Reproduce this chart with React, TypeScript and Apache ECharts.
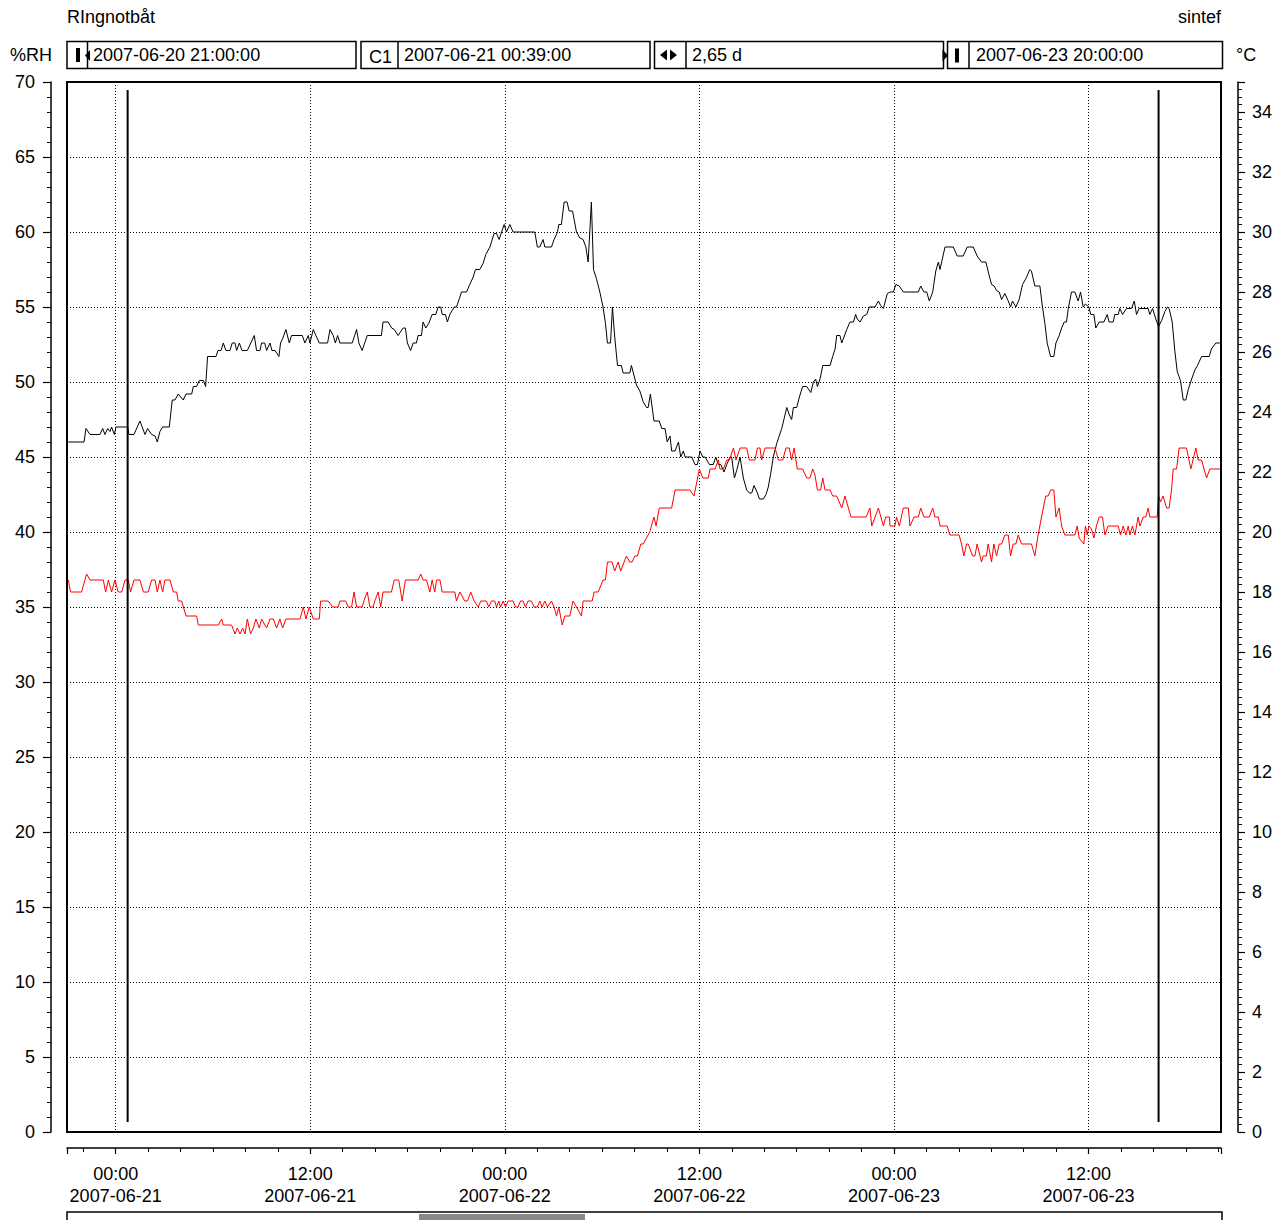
import React, { useEffect, useRef } from "react";
import * as echarts from "echarts";

// ---- texts ----
const chartTitle = "RIngnotbåt";
const brandText = "sintef";
const leftUnit = "%RH";
const rightUnit = "°C";
const startLabel = "2007-06-20 21:00:00";
const cursorName = "C1";
const cursorLabel = "2007-06-21 00:39:00";
const spanLabel = "2,65 d";
const endLabel = "2007-06-23 20:00:00";

// ---- x range, hours relative to 2007-06-21 00:00 ----
const xMinHours = -3;
const xMaxHours = 68.17;
const cursorHours = [0.74, 64.32];
const cursorRange = [0.67, 69.47];

// ---- relative humidity (%RH), [hours, value] ----
const rhPoints: [number, number][] = [
  [-2.92,46.0],[-1.95,46.0],[-1.83,46.9],[-1.58,46.5],[-0.97,46.5],[-0.80,46.9],[-0.66,46.5],[-0.49,46.9],[-0.35,46.7],[-0.25,47.0],[-0.08,46.5],[0.02,47.0],[0.74,47.0],[0.82,46.5],[1.13,46.5],[1.50,47.4],[1.81,46.5],[1.97,46.9],[2.22,46.5],[2.43,46.4],[2.57,46.0],[2.73,46.7],[2.90,47.0],[3.31,47.0],[3.49,48.8],[3.66,48.8],[3.86,49.2],[4.17,48.8],[4.34,49.2],[4.69,49.2],[4.79,49.7],[4.99,49.7],[5.16,50.1],[5.41,50.1],[5.55,49.7],[5.67,51.7],[6.19,51.7],[6.31,52.1],[6.50,52.1],[6.64,52.6],[6.80,52.1],[7.05,52.1],[7.19,52.6],[7.36,52.6],[7.46,52.1],[7.63,52.6],[7.79,52.1],[8.12,52.1],[8.55,53.1],[8.69,52.1],[8.90,52.1],[9.00,52.6],[9.19,52.6],[9.31,52.1],[9.52,52.6],[9.64,52.1],[9.83,52.1],[10.07,51.7],[10.17,52.6],[10.34,53.0],[10.50,53.5],[10.71,52.6],[10.85,53.1],[11.51,53.1],[11.67,52.6],[11.88,53.1],[11.98,52.6],[12.19,53.5],[12.35,53.1],[12.56,52.6],[13.07,52.6],[13.22,53.5],[13.42,53.1],[13.55,52.6],[13.69,53.1],[13.83,52.6],[14.59,52.6],[14.86,53.5],
  [15.0,52.6],[15.2,52.1],[15.52,53.1],[16.39,53.1],[16.49,54.0],[16.81,54.0],[17.02,53.6],[17.18,53.5],[17.42,53.1],[17.73,53.6],[17.87,53.6],[17.99,52.6],[18.19,52.1],[18.35,52.6],[18.55,52.6],[18.65,53.1],[18.86,53.1],[18.96,54.0],[19.13,53.6],[19.31,53.9],[19.52,54.5],[19.74,54.5],[19.89,55.0],[20.05,55.0],[20.14,54.5],[20.34,54.5],[20.46,54.0],[20.61,54.5],[20.88,55.0],[21.02,55.0],[21.18,55.5],[21.33,56.0],[21.64,56.0],[21.84,56.5],[22.05,57.0],[22.19,57.5],[22.46,57.5],[22.66,57.9],[22.83,58.5],[23.08,59.0],[23.34,59.9],[23.49,59.9],[23.65,59.5],[23.96,60.5],[24.10,60.0],[24.31,60.5],[24.51,60.0],[25.85,60.0],[26.01,59.0],[26.16,59.0],[26.36,59.5],[26.47,59.0],[26.88,59.0],[27.04,59.5],[27.25,60.0],[27.33,60.5],[27.49,60.5],[27.66,62.0],[27.84,62.0],[27.97,61.4],[28.18,61.4],[28.42,60.0],[28.63,59.6],[28.83,59.5],[29.00,59.0],[29.14,58.0],[29.34,62.0],[29.47,57.5],[29.65,56.9],[29.86,56.0],[30.06,55.0],[30.21,53.9],[30.33,52.6],[30.52,52.6],[30.64,55.0],[30.78,53.0],[30.95,51.1],[31.19,51.1],[31.30,50.6],[31.71,50.6],[31.81,51.1],[32.12,49.8],[32.33,49.4],[32.53,48.7],[32.74,48.3],[32.84,48.3],[32.98,49.2],
  [33.20,47.4],[33.53,47.4],[33.68,46.9],[33.88,46.9],[34.02,46.0],[34.19,46.4],[34.29,45.4],[34.50,45.4],[34.71,46.0],[34.85,45.0],[35.01,45.4],[35.12,45.0],[35.53,45.0],[35.73,44.5],[35.88,44.5],[36.04,45.4],[36.21,45.0],[36.35,45.0],[36.62,44.5],[36.86,44.5],[37.01,45.0],[37.17,44.5],[37.32,44.5],[37.52,44.0],[37.69,44.5],[37.89,45.0],[37.99,45.0],[38.16,43.6],[38.30,44.1],[38.51,45.0],[38.71,43.6],[38.92,42.8],[39.08,42.6],[39.23,42.6],[39.37,43.1],[39.58,42.6],[39.70,42.2],[39.95,42.2],[40.11,42.5],[40.25,43.0],[40.40,43.9],[40.56,45.0],[40.77,45.9],[41.08,46.9],[41.39,48.3],[41.55,47.8],[41.69,47.5],[41.80,48.3],[42.00,48.3],[42.17,49.0],[42.37,49.7],[42.62,49.7],[42.87,49.3],[43.03,50.0],[43.17,50.2],[43.28,49.7],[43.44,50.2],[43.61,51.1],[44.06,51.1],[44.22,51.7],[44.37,52.2],[44.47,53.1],[44.67,53.1],[44.78,52.6],[45.09,53.5],[45.29,54.0],[45.50,54.0],[45.64,54.5],[45.74,54.2],[45.91,54.0],[46.11,54.4],[46.32,54.5],[46.48,55.0],[46.83,55.0],[47.04,55.4],[47.18,55.1],[47.35,54.9],[47.59,55.9],[47.76,56.0],[47.96,56.0],[48.12,56.5],[48.33,56.4],[48.58,56.0],[49.50,56.0],[49.65,56.4],[49.85,56.0],[50.02,56.0],[50.18,55.4],[50.39,56.0],[50.58,57.4],[50.74,58.0],[50.84,57.5],[51.15,59.0],
  [51.66,59.0],[51.90,58.4],[52.27,58.4],[52.52,59.0],[52.89,59.0],[53.13,58.4],[53.40,58.0],[53.67,58.0],[53.85,57.2],[54.02,56.5],[54.18,56.4],[54.33,56.1],[54.49,56.0],[54.64,55.5],[54.84,55.9],[55.05,55.4],[55.19,55.0],[55.31,55.4],[55.52,55.0],[55.72,55.5],[55.93,56.5],[56.14,56.9],[56.38,57.5],[56.48,57.4],[56.69,56.4],[57.00,56.4],[57.16,55.0],[57.31,53.9],[57.45,52.6],[57.66,51.7],[57.86,51.7],[57.99,52.6],[58.19,53.1],[58.34,53.6],[58.50,54.0],[58.64,54.0],[58.75,54.9],[58.95,56.0],[59.16,56.0],[59.36,55.4],[59.51,56.0],[59.67,55.0],[59.81,55.2],[60.02,55.0],[60.14,54.5],[60.33,54.5],[60.45,53.6],[60.66,54.0],[60.95,54.0],[61.15,54.5],[61.27,54.0],[61.52,54.0],[61.62,54.5],[61.83,54.5],[61.93,54.9],[62.10,54.5],[62.34,54.9],[62.65,54.9],[62.82,55.4],[62.96,54.5],[63.12,54.9],[63.68,54.9],[63.78,54.5],[63.95,54.9],[64.15,54.2],[64.32,53.7],[64.51,54.1],[64.71,54.7],[64.87,55.0],[64.97,54.9],[65.16,54.0],[65.32,52.1],[65.47,50.7],[65.67,50.1],[65.84,48.8],[66.00,48.8],[66.15,49.5],[66.36,50.2],[66.56,50.8],[66.72,51.1],[66.97,51.7],[67.44,51.7],[67.58,52.2],[67.85,52.6],[68.10,52.6],
];

// ---- temperature (°C), [hours, value] ----
const tempPoints: [number, number][] = [
  [-2.92,18.4],[-2.78,18.0],[-2.10,18.0],[-1.79,18.6],[-1.58,18.4],[-0.76,18.4],[-0.62,18.0],[-0.45,18.4],[-0.25,18.0],[-0.04,18.4],[0.16,18.0],[0.37,18.0],[0.58,18.4],[0.78,18.4],[0.92,18.0],[1.13,18.4],[1.50,18.4],[1.71,18.0],[2.01,18.0],[2.22,18.4],[2.43,18.4],[2.57,18.0],[2.73,18.4],[2.90,18.0],[3.04,18.4],[3.35,18.4],[3.56,18.0],[3.76,18.0],[3.86,17.7],[4.07,17.7],[4.34,17.2],[4.99,17.2],[5.10,16.9],[6.33,16.9],[6.54,17.1],[6.64,16.9],[7.15,16.9],[7.36,16.6],[7.50,16.8],[7.67,16.6],[7.83,16.8],[7.98,16.6],[8.12,17.1],[8.32,16.6],[8.49,16.8],[8.65,17.1],[8.86,16.8],[9.00,17.1],[9.31,16.8],[9.52,17.1],[9.72,17.1],[9.93,16.8],[10.13,17.1],[10.30,16.8],[10.50,17.1],[11.37,17.1],[11.57,17.5],[11.74,17.1],[11.94,17.5],[12.19,17.1],[12.56,17.1],[12.64,17.7],[13.11,17.7],[13.38,17.5],[13.73,17.5],[13.83,17.7],[14.18,17.7],[14.35,17.5],[14.55,17.5],[14.70,18.0],[14.86,17.5],[15.20,17.5],
  [15.37,17.8],[15.52,18.0],[15.68,17.5],[15.88,17.5],[15.98,17.7],[16.19,18.0],[16.35,17.5],[16.49,18.0],[17.01,18.0],[17.18,18.4],[17.46,18.4],[17.67,17.7],[17.87,18.4],[18.66,18.4],[18.82,18.6],[18.96,18.4],[19.17,18.4],[19.38,18.0],[19.52,18.4],[19.68,18.0],[19.79,18.4],[20.0,18.4],[20.14,18.0],[20.92,18.0],[21.02,17.7],[21.23,18.0],[21.53,17.7],[21.70,17.7],[21.90,18.0],[22.11,17.7],[22.36,17.5],[22.52,17.7],[22.87,17.7],[23.01,17.5],[23.18,17.7],[23.38,17.7],[23.49,17.5],[23.63,17.7],[23.73,17.5],[23.90,17.7],[24.04,17.5],[24.21,17.7],[24.51,17.7],[24.66,17.5],[24.82,17.5],[24.97,17.7],[25.13,17.7],[25.27,17.5],[25.44,17.7],[25.64,17.7],[25.81,17.5],[26.01,17.5],[26.16,17.7],[26.30,17.5],[26.47,17.7],[26.63,17.5],[26.88,17.7],[27.04,17.5],[27.19,17.2],[27.33,17.5],[27.54,16.9],[27.70,17.2],[28.01,17.2],[28.21,17.7],[28.42,17.5],[28.73,17.2],[28.83,17.7],[29.39,17.7],[29.51,18.0],[29.76,18.0],[30.06,18.4],[30.21,18.4],[30.33,19.0],[30.62,19.0],[30.78,18.7],[30.99,19.0],[31.15,18.7],[31.50,19.2],[31.71,19.0],[31.85,19.0],[32.02,19.2],[32.18,19.2],[32.39,19.6],[32.53,19.6],[32.74,19.8],[32.94,20.0],
  [33.20,20.5],[33.33,20.2],[33.53,20.8],[34.29,20.8],[34.50,21.4],[35.42,21.4],[35.67,21.2],[36.0,22.1],[36.21,21.8],[36.55,21.8],[36.66,22.1],[36.97,22.1],[37.17,22.4],[37.27,22.1],[37.48,22.1],[37.69,22.4],[37.85,22.4],[38.10,22.8],[38.26,22.4],[38.51,22.8],[38.92,22.8],[39.08,22.4],[39.43,22.4],[39.58,22.8],[39.74,22.8],[39.84,22.4],[40.05,22.8],[40.67,22.8],[40.87,22.4],[41.14,22.4],[41.34,22.8],[41.55,22.8],[41.69,22.4],[41.84,22.8],[42.04,22.1],[42.37,22.1],[42.62,21.8],[42.82,21.8],[42.99,22.1],[43.13,21.9],[43.28,21.4],[43.48,21.4],[43.61,21.8],[43.75,21.4],[44.06,21.4],[44.22,21.2],[44.47,21.2],[44.78,20.8],[44.98,21.2],[45.19,20.8],[45.35,20.5],[46.28,20.5],[46.52,20.8],[46.63,20.2],[47.04,20.8],[47.35,20.2],[47.49,20.5],[47.72,20.5],[47.76,20.2],[48.06,20.2],[48.16,20.5],[48.33,20.2],[48.58,20.8],[48.89,20.8],[48.99,20.2],[49.24,20.5],[49.50,20.5],[49.65,20.8],[49.85,20.5],[50.18,20.5],[50.39,20.8],[50.53,20.5],[50.74,20.5],[50.84,20.2],
  [51.28,20.2],[51.45,19.9],[52.02,19.9],[52.17,19.6],[52.31,19.2],[52.48,19.6],[52.58,19.6],[52.85,19.2],[52.99,19.2],[53.13,19.6],[53.40,19.0],[53.50,19.2],[53.70,19.2],[53.81,19.6],[54.02,19.0],[54.16,19.6],[54.33,19.2],[54.49,19.6],[54.64,19.6],[54.84,19.9],[55.05,19.9],[55.19,19.2],[55.35,19.6],[55.52,19.6],[55.66,19.9],[55.87,19.6],[56.48,19.6],[56.69,19.2],[56.89,19.9],[57.10,20.5],[57.36,21.2],[57.51,21.2],[57.66,21.4],[57.86,21.4],[57.99,20.5],[58.19,20.8],[58.34,20.2],[58.54,19.9],[59.16,19.9],[59.30,20.2],[59.42,19.8],[59.71,19.6],[59.81,20.2],[59.92,19.9],[60.02,20.2],[60.18,20.1],[60.33,19.8],[60.49,20.2],[60.66,20.5],[60.86,20.5],[61.01,19.9],[61.21,20.2],[61.83,20.2],[61.97,19.9],[62.14,20.2],[62.30,19.9],[62.45,20.2],[62.55,19.9],[62.71,20.2],[62.86,19.9],[63.06,20.5],[63.17,20.2],[63.37,20.5],[63.53,20.5],[63.68,20.8],[63.78,20.5],[64.23,20.5],[64.32,21.2],[64.44,21.0],[64.60,21.2],[64.81,20.8],[64.97,20.8],[65.12,21.4],[65.22,22.1],[65.43,22.1],[65.59,22.8],[66.04,22.8],[66.31,22.1],[66.62,22.8],[66.76,22.4],[66.97,22.4],[67.28,21.8],[67.48,22.1],[68.10,22.1],
];

const FONT = "'Liberation Sans', Arial, Helvetica, sans-serif";
const HALF_DAY = 12;

function pad(n: number) {
  return n < 10 ? "0" + n : String(n);
}

function xLabel(v: number) {
  const h = Math.round(v * HALF_DAY);
  const day = 21 + Math.floor(h / 24);
  const hh = ((h % 24) + 24) % 24;
  return pad(hh) + ":00\n2007-06-" + pad(day);
}

function txt(text: string, x: number, y: number, align = "left") {
  return {
    type: "text",
    x,
    y,
    silent: true,
    style: { text, fill: "#000", fontSize: 18, fontFamily: FONT, align, verticalAlign: "middle" },
  };
}
function box(x: number, y: number, w: number, h: number, lw = 1.5) {
  return {
    type: "rect",
    shape: { x, y, width: w, height: h },
    silent: true,
    z: 100,
    style: { fill: "none", stroke: "#000", lineWidth: lw },
  };
}
function vline(x: number, y1: number, y2: number, w = 1.5) {
  return { type: "line", silent: true, shape: { x1: x, y1, x2: x, y2 }, style: { stroke: "#000", lineWidth: w } };
}
function tri(points: number[][]) {
  return { type: "polygon", silent: true, shape: { points }, style: { fill: "#000" } };
}
function bar(x: number, y: number, w: number, h: number, fill = "#000") {
  return { type: "rect", silent: true, shape: { x, y, width: w, height: h }, style: { fill } };
}

const dotted = { color: "#000", width: 1, type: [1, 2] };

export default function App() {
  const ref = useRef<HTMLDivElement>(null);
  useEffect(() => {
    document.body.style.margin = "0";
    if (!ref.current) return;
    const chart = echarts.init(ref.current, undefined, { renderer: "svg" });
    const boxTop = 41.5;
    const boxH = 27;
    const midY = 55;
    const option: any = {
      animation: false,
      backgroundColor: "#fff",
      textStyle: { fontFamily: FONT, color: "#000" },
      grid: {
        left: 67,
        right: 62,
        top: 82,
        bottom: 88,
        show: false,
      },
      xAxis: {
        type: "value",
        min: xMinHours / HALF_DAY,
        max: xMaxHours / HALF_DAY,
        splitNumber: 6,
        offset: 16,
        axisLine: { show: true, onZero: false, lineStyle: { color: "#000", width: 1.5 } },
        axisTick: { show: true, length: 6, lineStyle: { color: "#000", width: 1.2 } },
        minorTick: { show: true, splitNumber: 6, length: 4, lineStyle: { color: "#000", width: 1 } },
        axisLabel: {
          show: true,
          formatter: xLabel,
          fontSize: 18,
          lineHeight: 22,
          color: "#000",
          fontFamily: FONT,
          margin: 15,
          showMinLabel: false,
          showMaxLabel: false,
        },
        splitLine: { show: true, showMinLine: false, showMaxLine: false, lineStyle: dotted },
        minorSplitLine: { show: false },
      },
      yAxis: [
        {
          type: "value",
          position: "left",
          min: 0,
          max: 70,
          interval: 5,
          offset: 16,
          axisLine: { show: true, onZero: false, lineStyle: { color: "#000", width: 1.5 } },
          axisTick: { show: true, length: 8, lineStyle: { color: "#000", width: 1.2 } },
          minorTick: { show: true, splitNumber: 5, length: 4, lineStyle: { color: "#000", width: 1 } },
          axisLabel: { fontSize: 18, color: "#000", fontFamily: FONT, margin: 16 },
          splitLine: { show: true, showMinLine: false, showMaxLine: false, lineStyle: dotted },
        },
        {
          type: "value",
          position: "right",
          min: 0,
          max: 35,
          splitNumber: 17,
          offset: 17,
          axisLine: { show: true, onZero: false, lineStyle: { color: "#000", width: 1.5 } },
          axisTick: { show: true, length: 7, lineStyle: { color: "#000", width: 1.2 } },
          minorTick: { show: true, splitNumber: 8, length: 4, lineStyle: { color: "#000", width: 1 } },
          axisLabel: { fontSize: 18, color: "#000", fontFamily: FONT, margin: 14, showMaxLabel: false },
          splitLine: { show: false },
        },
      ],
      series: [
        {
          name: "RH",
          type: "line",
          yAxisIndex: 0,
          symbol: "none",
          silent: true,
          lineStyle: { color: "#000", width: 1 },
          data: rhPoints.map(([h, v]) => [h / HALF_DAY, v]),
          z: 3,
        },
        {
          name: "Temp",
          type: "line",
          yAxisIndex: 1,
          symbol: "none",
          silent: true,
          lineStyle: { color: "#ff0000", width: 1 },
          data: tempPoints.map(([h, v]) => [h / HALF_DAY, v]),
          z: 3,
        },
        ...cursorHours.map((h, i) => ({
          name: "cursor" + i,
          type: "line",
          yAxisIndex: 0,
          symbol: "none",
          silent: true,
          lineStyle: { color: "#000", width: 2 },
          data: cursorRange.map((v) => [h / HALF_DAY, v]),
          z: 4,
        })),
      ],
      graphic: [
        txt(chartTitle, 67, 17),
        txt(brandText, 1221, 17, "right"),
        txt(leftUnit, 10, midY),
        txt(rightUnit, 1236, midY),
        // plot frame
        box(67, 82, 1154, 1050, 2),
        // box A: start
        box(67, boxTop, 289, boxH),
        bar(76, 48, 4, 14),
        vline(87.5, boxTop, boxTop + boxH),
        tri([[85, 55.5], [90, 50], [90, 61]]),
        txt(startLabel, 93, midY),
        // box B: cursor
        box(361, boxTop, 289, boxH),
        vline(398, boxTop, boxTop + boxH),
        txt(cursorName, 369, 57),
        txt(cursorLabel, 404, midY),
        // box C: span
        box(654.5, boxTop, 289, boxH),
        vline(686, boxTop, boxTop + boxH),
        tri([[660, 55], [667, 49.5], [667, 60.5]]),
        tri([[670, 49.5], [670, 60.5], [677, 55]]),
        txt(spanLabel, 692, midY),
        // box D: end
        box(947.5, boxTop, 275, boxH),
        tri([[942.5, 49.5], [942.5, 61.5], [948, 55.5]]),
        bar(955, 48.5, 4, 14),
        vline(969, boxTop, boxTop + boxH),
        txt(endLabel, 976, midY),
        // bottom scroll bar
        box(67, 1212, 1155, 20),
        bar(419, 1214, 166, 8, "#888"),
      ],
    };
    chart.setOption(option);
    return () => chart.dispose();
  }, []);
  return <div ref={ref} style={{ width: 1283, height: 1220 }} />;
}
